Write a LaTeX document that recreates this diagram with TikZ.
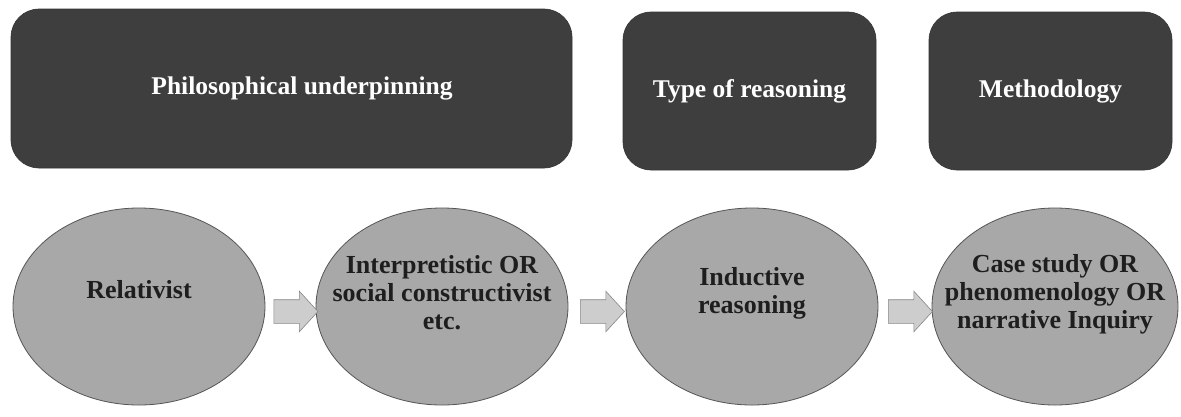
\documentclass[tikz,border=0pt]{standalone}
\usepackage{fontspec}
\setmainfont{Liberation Serif}
\usetikzlibrary{shapes.geometric,shapes.arrows,calc}
\definecolor{boxgray}{RGB}{62,62,62}
\definecolor{ovalgray}{RGB}{168,168,168}
\definecolor{ovalline}{RGB}{85,85,85}
\definecolor{ovaltext}{RGB}{30,30,30}
\definecolor{arrowfill}{RGB}{205,205,205}
\definecolor{arrowline}{RGB}{135,135,135}
\begin{document}
\begin{tikzpicture}[x=1pt,y=-1pt,
  hdr/.style={rectangle, rounded corners=28pt, fill=boxgray, draw=boxgray!85!black,
    line width=0.6pt, text=white, font=\bfseries\fontsize{25.5}{30}\selectfont, inner sep=0pt},
  oval/.style={ellipse, fill=ovalgray, draw=ovalline, line width=0.8pt, inner sep=0pt,
    minimum width=252pt, minimum height=197pt},
  ovaltxt/.style={text=ovaltext, font=\bfseries\fontsize{26}{28}\selectfont, align=center, inner sep=0pt},
  blockarrow/.style={single arrow, fill=arrowfill, draw=arrowline, line width=0.6pt,
    minimum height=44pt, inner xsep=0pt, inner ysep=11.5pt, text height=0pt, text depth=0pt,
    single arrow head extend=8.5pt, single arrow tip angle=95}
]
\fill[white] (0,0) rectangle (1181,416);
\useasboundingbox (0,0) rectangle (1181,416);

% header boxes
\node[hdr, minimum width=561pt, minimum height=159pt] (b1) at (291.5,88.5) {};
\node[text=white, font=\bfseries\fontsize{25.5}{30}\selectfont] (t1) at (302,88) {Philosophical underpinning};
\node[hdr, minimum width=253pt, minimum height=158pt] (b2) at (749.5,91) {Type of reasoning};
\node[hdr, minimum width=243pt, minimum height=158pt] (b3) at (1050.5,91) {Methodology};

% ovals
\node[oval] (e1) at (139,306.5) {};
\node[oval] (e2) at (442,306.5) {};
\node[oval] (e3) at (752,306.5) {};
\node[oval, minimum width=246pt] (e4) at (1055,306.5) {};

\node[ovaltxt] (l1) at ([yshift=17pt]e1.center) {Relativist};
\node[ovaltxt] (l2) at ([yshift=14pt]e2.center) {Interpretistic OR\\social constructivist\\etc.};
\node[ovaltxt] (l3) at ([yshift=13pt]e3.center) {Inductive\\reasoning};
\node[ovaltxt] (l4) at ([yshift=12pt]e4.center) {Case study OR\\phenomenology OR\\narrative Inquiry};

% block arrows
\node[blockarrow] (a1) at ($([yshift=-5pt]e1.east)!0.5!([yshift=-5pt]e2.west)$) {};
\node[blockarrow] (a2) at ($([yshift=-5pt]e2.east)!0.5!([yshift=-5pt]e3.west)$) {};
\node[blockarrow] (a3) at ($([yshift=-5pt]e3.east)!0.5!([yshift=-5pt]e4.west)$) {};
\end{tikzpicture}
\end{document}
